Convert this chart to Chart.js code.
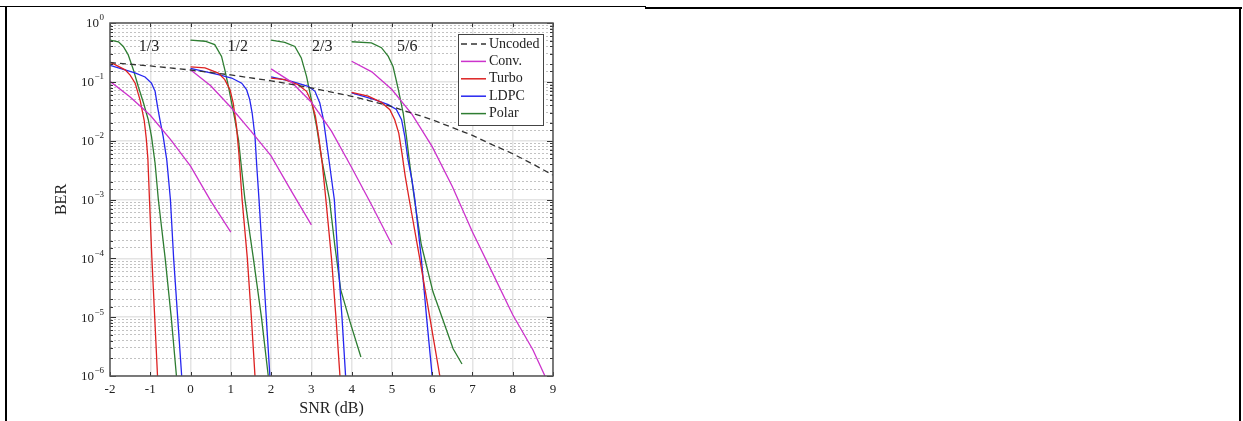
<!DOCTYPE html>
<html>
<head>
<meta charset="utf-8">
<title>BER vs SNR</title>
<script src="https://cdn.jsdelivr.net/npm/chart.js@4.4.1/dist/chart.umd.min.js"></script>
<style>
  body { margin: 0; background: #fff; }
  #wrap { position: relative; width: 1243px; height: 421px; overflow: hidden; }
  #chart { position: absolute; left: 0; top: 0; }
  .rule { position: absolute; background: #000; }
</style>
</head>
<body>
<div id="wrap">
  <canvas id="chart" width="1243" height="421"></canvas>
  <div class="rule" style="left:0;top:6px;width:646px;height:1px"></div>
  <div class="rule" style="left:645px;top:7px;width:597px;height:2px"></div>
  <div class="rule" style="left:5px;top:7px;width:2px;height:414px"></div>
  <div class="rule" style="left:1239px;top:7px;width:2px;height:414px"></div>
</div>
<script>
// code rates, one curve per rate for every code
const rates = ['1/3', '1/2', '2/3', '5/6'];

const uncodedSnr = [-2, -1, 0, 1, 2, 3, 4, 5, 6, 6.5, 7, 7.5, 8, 8.5, 9];
const uncodedBer = [0.213, 0.186, 0.159, 0.131, 0.104, 0.0789, 0.0568, 0.0378, 0.0227, 0.0167, 0.0123, 0.0085, 0.006, 0.004, 0.0026];

const convSnr = [
  [-2, -1.5, -1, -0.5, 0, 0.5, 1],
  [0, 0.5, 1, 1.5, 2, 2.5, 3],
  [2, 2.5, 3, 3.5, 4, 4.5, 5],
  [4, 4.5, 5, 5.5, 6, 6.5, 7, 7.5, 8, 8.5, 8.8]
];
const convBer = [
  [0.102, 0.055, 0.027, 0.0105, 0.0037, 0.00095, 0.00028],
  [0.16, 0.086, 0.037, 0.0145, 0.0055, 0.0014, 0.00037],
  [0.166, 0.1, 0.045, 0.0145, 0.0035, 0.0008, 0.00017],
  [0.224, 0.148, 0.074, 0.028, 0.0079, 0.00166, 0.00028, 0.000056, 0.000011, 0.0000028, 0.000001]
];

const turboSnr = [
  [-2, -1.875, -1.625, -1.5, -1.375, -1.25, -1.15, -1.1, -1.06, -1.02, -0.96, -0.89, -0.82],
  [0, 0.36, 0.69, 0.85, 0.98, 1.06, 1.14, 1.2, 1.28, 1.41, 1.51, 1.6],
  [2, 2.34, 2.67, 2.88, 3.0, 3.1, 3.18, 3.27, 3.36, 3.5, 3.61, 3.71],
  [4, 4.41, 4.74, 4.95, 5.07, 5.17, 5.25, 5.33, 5.43, 5.69, 5.94, 6.19]
];
const turboBer = [
  [0.215, 0.196, 0.16, 0.13, 0.095, 0.048, 0.022, 0.011, 0.005, 0.001, 0.0001, 0.00001, 0.000001],
  [0.18, 0.172, 0.141, 0.109, 0.0736, 0.0436, 0.0175, 0.0061, 0.001, 0.0001, 0.00001, 0.000001],
  [0.116, 0.109, 0.0895, 0.069, 0.046, 0.026, 0.0118, 0.0041, 0.001, 0.0001, 0.00001, 0.000001],
  [0.066, 0.057, 0.0447, 0.0336, 0.0227, 0.0134, 0.0061, 0.0025, 0.001, 0.0001, 0.00001, 0.000001]
];

const ldpcSnr = [
  [-2, -1.71, -1.38, -1.13, -0.97, -0.88, -0.82, -0.76, -0.68, -0.59, -0.5, -0.42, -0.32, -0.22],
  [0, 0.69, 1.02, 1.27, 1.39, 1.47, 1.53, 1.6, 1.64, 1.7, 1.79, 1.88, 1.97],
  [2, 2.51, 2.92, 3.09, 3.21, 3.3, 3.38, 3.46, 3.57, 3.66, 3.76, 3.85],
  [4, 4.57, 4.91, 5.11, 5.24, 5.32, 5.4, 5.5, 5.57, 5.73, 5.86, 6.0]
];
const ldpcBer = [
  [0.19, 0.166, 0.142, 0.121, 0.095, 0.069, 0.038, 0.0226, 0.0118, 0.0047, 0.001, 0.0001, 0.00001, 0.000001],
  [0.17, 0.132, 0.116, 0.095, 0.074, 0.05, 0.0295, 0.0118, 0.0041, 0.001, 0.0001, 0.00001, 0.000001],
  [0.121, 0.102, 0.084, 0.069, 0.0436, 0.0227, 0.0091, 0.0036, 0.001, 0.0001, 0.00001, 0.000001],
  [0.065, 0.05, 0.041, 0.034, 0.0227, 0.0118, 0.0047, 0.0021, 0.001, 0.0001, 0.00001, 0.000001]
];

const polarSnr = [
  [-2, -1.79, -1.67, -1.55, -1.42, -1.3, -1.17, -1.05, -0.97, -0.88, -0.8, -0.63, -0.48, -0.35],
  [0, 0.36, 0.6, 0.77, 0.85, 0.94, 1.02, 1.1, 1.19, 1.27, 1.35, 1.56, 1.76, 1.93],
  [2, 2.34, 2.59, 2.75, 2.88, 3.0, 3.13, 3.26, 3.45, 3.58, 3.73, 3.96, 4.23],
  [4, 4.49, 4.74, 4.91, 5.03, 5.16, 5.28, 5.36, 5.44, 5.56, 5.73, 6.02, 6.52, 6.74]
];
const polarBer = [
  [0.51, 0.48, 0.4, 0.29, 0.161, 0.084, 0.044, 0.0227, 0.0118, 0.0041, 0.001, 0.0001, 0.00001, 0.000001],
  [0.51, 0.49, 0.43, 0.27, 0.161, 0.084, 0.044, 0.023, 0.0103, 0.0032, 0.001, 0.0001, 0.00001, 0.000001],
  [0.51, 0.47, 0.4, 0.255, 0.124, 0.05, 0.0174, 0.0047, 0.001, 0.00017, 0.000029, 0.0000083, 0.0000021],
  [0.48, 0.46, 0.38, 0.27, 0.18, 0.074, 0.0295, 0.0118, 0.0041, 0.001, 0.00017, 0.000027, 0.0000029, 0.0000016]
];

const SERIF = '"Liberation Serif", "DejaVu Serif", serif';
const TEXT = '#222';

function isDecade(v) {
  const e = Math.log10(v);
  return Math.abs(e - Math.round(e)) < 1e-6;
}

function curve(label, color, snr, ber, extra) {
  return Object.assign({
    label: label,
    data: snr.map((s, i) => ({x: s, y: ber[i]})),
    borderColor: color,
    borderWidth: 1.3,
    pointRadius: 0,
    fill: false,
    tension: 0
  }, extra || {});
}

const datasets = [curve('Uncoded', '#333', uncodedSnr, uncodedBer, {borderDash: [6, 4]})];
const codes = [
  ['Conv.', '#cc33cc', convSnr, convBer],
  ['Turbo', '#dd2222', turboSnr, turboBer],
  ['LDPC', '#2626f0', ldpcSnr, ldpcBer],
  ['Polar', '#2e7d32', polarSnr, polarBer]
];
codes.forEach(([name, color, snr, ber]) => {
  rates.forEach((r, i) => datasets.push(curve(name, color, snr[i], ber[i])));
});

// plot box, inward tick marks and 10^n labels with a raised exponent
const frameTicks = {
  id: 'frameTicks',
  afterDatasetsDraw(chart) {
    const {ctx, chartArea: a, scales: {x, y}} = chart;
    ctx.save();
    ctx.strokeStyle = '#333';
    ctx.lineWidth = 1;
    ctx.beginPath();
    x.ticks.forEach(t => {
      const px = Math.round(x.getPixelForValue(t.value)) + 0.5;
      ctx.moveTo(px, a.bottom); ctx.lineTo(px, a.bottom - 4);
      ctx.moveTo(px, a.top); ctx.lineTo(px, a.top + 4);
    });
    y.ticks.forEach(t => {
      const py = Math.round(y.getPixelForValue(t.value)) + 0.5;
      const len = isDecade(t.value) ? 6 : 3;
      ctx.moveTo(a.left, py); ctx.lineTo(a.left + len, py);
      ctx.moveTo(a.right, py); ctx.lineTo(a.right - len, py);
    });
    ctx.stroke();
    ctx.strokeStyle = '#555';
    ctx.lineWidth = 1.5;
    ctx.strokeRect(a.left, a.top, a.right - a.left, a.bottom - a.top);

    ctx.fillStyle = TEXT;
    ctx.textAlign = 'right';
    ctx.textBaseline = 'middle';
    y.ticks.filter(t => isDecade(t.value)).forEach(t => {
      const py = y.getPixelForValue(t.value);
      const exp = String(Math.round(Math.log10(t.value))).replace('-', '\u2212');
      const right = a.left - 6;
      ctx.font = '9px ' + SERIF;
      const ew = ctx.measureText(exp).width;
      ctx.fillText(exp, right, py - 5);
      ctx.font = '13px ' + SERIF;
      ctx.fillText('10', right - ew - 0.5, py + 1);
    });
    ctx.restore();
  }
};

// legend box in the upper right corner of the plot
const boxLegend = {
  id: 'boxLegend',
  afterDraw(chart) {
    const {ctx, chartArea: a} = chart;
    const seen = [];
    chart.data.datasets.forEach(ds => {
      if (!seen.find(s => s.label === ds.label)) seen.push(ds);
    });
    const w = 85, h = 91, step = 17.4;
    const left = a.right - 10 - w, top = a.top + 11;
    ctx.save();
    ctx.fillStyle = '#fff';
    ctx.fillRect(left, top, w, h);
    ctx.strokeStyle = '#444';
    ctx.lineWidth = 1;
    ctx.strokeRect(left + 0.5, top + 0.5, w, h);
    ctx.font = '14px ' + SERIF;
    ctx.textBaseline = 'middle';
    seen.forEach((ds, i) => {
      const yy = top + 10 + i * step;
      ctx.strokeStyle = ds.borderColor;
      ctx.lineWidth = 1.5;
      ctx.setLineDash(ds.borderDash || []);
      ctx.beginPath();
      ctx.moveTo(left + 3, yy);
      ctx.lineTo(left + 28, yy);
      ctx.stroke();
      ctx.setLineDash([]);
      ctx.fillStyle = TEXT;
      ctx.fillText(ds.label, left + 31, yy);
    });
    ctx.restore();
  }
};

// code rate labels over each group of curves
const rateLabels = {
  id: 'rateLabels',
  afterDatasetsDraw(chart, args, opts) {
    const {ctx, scales: {x, y}} = chart;
    ctx.save();
    ctx.font = '16px ' + SERIF;
    ctx.fillStyle = TEXT;
    ctx.textAlign = 'center';
    ctx.textBaseline = 'middle';
    rates.forEach((r, i) => {
      ctx.fillText(r, x.getPixelForValue(opts.at[i]), y.getPixelForValue(opts.ber));
    });
    ctx.restore();
  }
};

new Chart(document.getElementById('chart'), {
  type: 'line',
  data: {datasets: datasets},
  plugins: [frameTicks, rateLabels, boxLegend],
  options: {
    responsive: false,
    animation: false,
    devicePixelRatio: 1,
    layout: {padding: {left: 0, top: 23, right: 690, bottom: 0}},
    plugins: {
      legend: {display: false},
      tooltip: {enabled: false},
      rateLabels: {at: [-1.03, 1.17, 3.27, 5.38], ber: 0.4}
    },
    scales: {
      x: {
        type: 'linear',
        min: -2,
        max: 9,
        ticks: {stepSize: 1, padding: 6, color: TEXT, font: {family: SERIF, size: 13}},
        grid: {color: '#e4e4e4', lineWidth: 1.5, drawTicks: false},
        border: {display: false},
        title: {display: true, text: 'SNR (dB)', color: TEXT, font: {family: SERIF, size: 16}, padding: {top: 0, bottom: 3}},
        afterFit(scale) { scale.height = 45; }
      },
      y: {
        type: 'logarithmic',
        min: 1e-6,
        max: 1,
        ticks: {display: false, autoSkip: false},
        grid: {
          color: c => isDecade(c.tick.value) ? '#e4e4e4' : 'rgba(0,0,0,0)',
          lineWidth: 1.5,
          drawTicks: false
        },
        border: {display: false},
        title: {display: true, text: 'BER', color: TEXT, font: {family: SERIF, size: 16}, padding: {top: 52, bottom: 0}},
        afterFit(scale) { scale.width = 110; }
      },
      yMinor: {
        type: 'logarithmic',
        position: 'left',
        min: 1e-6,
        max: 1,
        ticks: {display: false, autoSkip: false},
        grid: {
          color: c => isDecade(c.tick.value) ? 'rgba(0,0,0,0)' : '#c2c2c2',
          lineWidth: 1,
          drawTicks: false
        },
        border: {display: false, dash: [2, 2]},
        afterFit(scale) { scale.width = 0; }
      }
    }
  }
});
</script>
</body>
</html>
